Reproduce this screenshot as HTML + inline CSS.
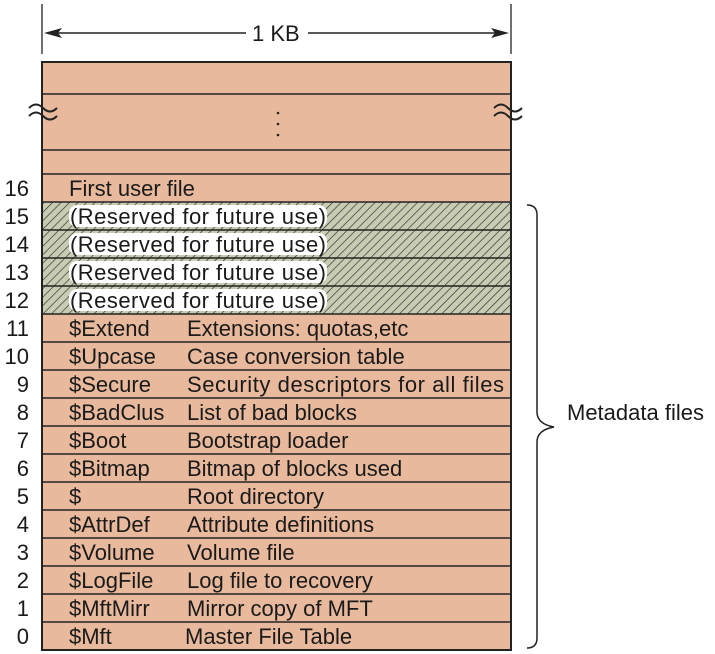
<!DOCTYPE html>
<html><head><meta charset="utf-8"><style>
html,body{margin:0;padding:0;background:#fff;}
svg{display:block;}
text{font-family:"Liberation Sans",sans-serif;font-size:22px;fill:#1a1a1a;}
</style></head><body>
<svg width="715" height="654" viewBox="0 0 715 654" xmlns="http://www.w3.org/2000/svg">
<defs>
<pattern id="h" patternUnits="userSpaceOnUse" width="6" height="6" patternTransform="rotate(45)">
<rect width="6" height="6" fill="#c8ccb3"/>
<line x1="0" y1="0" x2="0" y2="6" stroke="#2a2a2a" stroke-width="1.3"/>
</pattern>
</defs>
<line x1="42" y1="4" x2="42" y2="54" stroke="#222" stroke-width="1.3"/>
<line x1="511" y1="4" x2="511" y2="54" stroke="#222" stroke-width="1.3"/>
<line x1="50" y1="33" x2="246" y2="33" stroke="#222" stroke-width="1.5"/>
<line x1="308" y1="33" x2="503" y2="33" stroke="#222" stroke-width="1.5"/>
<polygon points="44,33 62,28 58,33 62,38" fill="#222"/>
<polygon points="509,33 491,28 495,33 491,38" fill="#222"/>
<text x="252" y="41">1 KB</text>
<rect x="42" y="62" width="469" height="588" fill="#e8b99c" stroke="#222" stroke-width="2"/>
<g stroke="#222" stroke-width="1.6">
<line x1="42" y1="94" x2="511" y2="94"/>
<line x1="42" y1="150" x2="511" y2="150"/>
<line x1="42" y1="174" x2="511" y2="174"/>
</g>
<circle cx="278" cy="113" r="1.3" fill="#222"/><circle cx="278" cy="124" r="1.3" fill="#222"/><circle cx="278" cy="135" r="1.3" fill="#222"/>
<g fill="none" stroke="#222" stroke-width="2">
<path d="M29,108 q7,-7 14,0 t14,0"/><path d="M29,116 q7,-7 14,0 t14,0"/>
<path d="M494,108 q7,-7 14,0 t14,0"/><path d="M494,116 q7,-7 14,0 t14,0"/>
</g>
<rect x="43" y="202" width="467" height="112" fill="url(#h)"/>
<g fill="#fff">
<rect x="69" y="205" width="258" height="22" rx="8"/>
<rect x="69" y="233" width="258" height="22" rx="8"/>
<rect x="69" y="261" width="258" height="22" rx="8"/>
<rect x="69" y="289" width="258" height="22" rx="8"/>
</g>
<g stroke="#222" stroke-width="1.6">
<line x1="42" y1="202" x2="511" y2="202"/><line x1="42" y1="230" x2="511" y2="230"/>
<line x1="42" y1="258" x2="511" y2="258"/><line x1="42" y1="286" x2="511" y2="286"/>
<line x1="42" y1="314" x2="511" y2="314"/><line x1="42" y1="342" x2="511" y2="342"/>
<line x1="42" y1="370" x2="511" y2="370"/><line x1="42" y1="398" x2="511" y2="398"/>
<line x1="42" y1="426" x2="511" y2="426"/><line x1="42" y1="454" x2="511" y2="454"/>
<line x1="42" y1="482" x2="511" y2="482"/><line x1="42" y1="510" x2="511" y2="510"/>
<line x1="42" y1="538" x2="511" y2="538"/><line x1="42" y1="566" x2="511" y2="566"/>
<line x1="42" y1="594" x2="511" y2="594"/><line x1="42" y1="622" x2="511" y2="622"/>
</g>
<g text-anchor="end">
<text x="29" y="196">16</text><text x="29" y="224">15</text><text x="29" y="252">14</text>
<text x="29" y="280">13</text><text x="29" y="308">12</text><text x="29" y="336">11</text>
<text x="29" y="364">10</text><text x="29" y="392">9</text><text x="29" y="420">8</text>
<text x="29" y="448">7</text><text x="29" y="476">6</text><text x="29" y="504">5</text>
<text x="29" y="532">4</text><text x="29" y="560">3</text><text x="29" y="588">2</text>
<text x="29" y="616">1</text><text x="29" y="644">0</text>
</g>
<text x="69" y="196">First user file</text>
<text x="70" y="224" textLength="256">(Reserved for future use)</text>
<text x="70" y="252" textLength="256">(Reserved for future use)</text>
<text x="70" y="280" textLength="256">(Reserved for future use)</text>
<text x="70" y="308" textLength="256">(Reserved for future use)</text>
<text x="69" y="336">$Extend</text><text x="187" y="336">Extensions: quotas,etc</text>
<text x="69" y="364">$Upcase</text><text x="187" y="364">Case conversion table</text>
<text x="69" y="392">$Secure</text><text x="187" y="392" textLength="317">Security descriptors for all files</text>
<text x="69" y="420">$BadClus</text><text x="187" y="420">List of bad blocks</text>
<text x="69" y="448">$Boot</text><text x="187" y="448">Bootstrap loader</text>
<text x="69" y="476">$Bitmap</text><text x="187" y="476">Bitmap of blocks used</text>
<text x="69" y="504">$</text><text x="187" y="504">Root directory</text>
<text x="69" y="532">$AttrDef</text><text x="187" y="532">Attribute definitions</text>
<text x="69" y="560">$Volume</text><text x="187" y="560">Volume file</text>
<text x="69" y="588">$LogFile</text><text x="187" y="588">Log file to recovery</text>
<text x="69" y="616">$MftMirr</text><text x="187" y="616">Mirror copy of MFT</text>
<text x="69" y="644">$Mft</text><text x="185" y="644">Master File Table</text>
<path d="M527,205 q10,0 10,10 L537,412 q0,12 17,15 q-17,3 -17,15 L537,638 q0,10 -10,10" fill="none" stroke="#222" stroke-width="1.5"/>
<text x="567" y="420">Metadata files</text>
</svg>
</body></html>
